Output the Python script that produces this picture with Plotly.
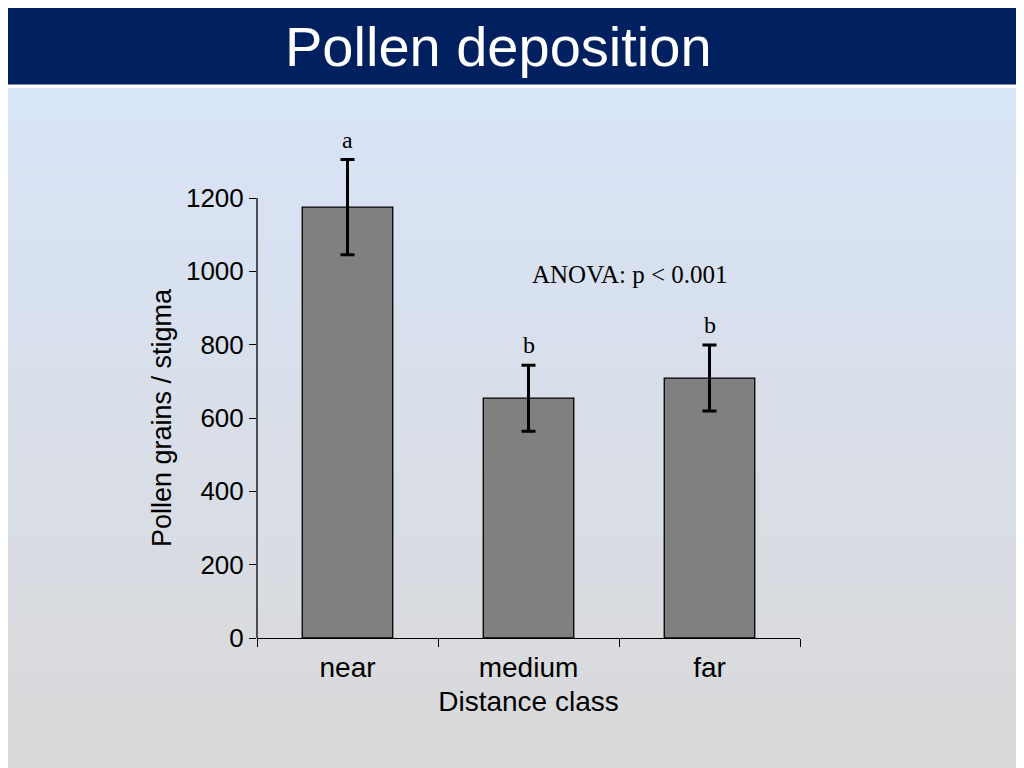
import plotly.graph_objects as go

categories = ["near", "medium", "far"]
means = [1175, 654, 709]
errors = [130, 90, 90]
letters = ["a", "b", "b"]
y_ticks = [0, 200, 400, 600, 800, 1000, 1200]

# The page has an 8px body margin; the figure is sized to fit the window.
OFF = 8
W, H = 1024 - OFF, 768 - OFF
ml, mr, mt, mb = 249, 224, 102, 130
pw, ph = W - ml - mr, H - mt - mb

def py(page_y):   # page pixel row -> paper y
    return (H - mb - (page_y - OFF)) / ph

def px(page_x):   # page pixel column -> paper x
    return ((page_x - OFF) - ml) / pw

fig = go.Figure()
fig.add_trace(go.Bar(
    x=categories, y=means, width=0.5,
    marker=dict(color="#808080", line=dict(color="black", width=1.3)),
    error_y=dict(type="data", array=errors, visible=True,
                 color="black", thickness=3, width=7),
    showlegend=False, hoverinfo="skip",
))

shapes = []
# background gradient bands
top_c = (216, 228, 248)
bot_c = (217, 217, 217)
n = 80
ya0, yb0 = 88, 768
for i in range(n):
    t = i / (n - 1)
    c = tuple(round(top_c[k] + (bot_c[k] - top_c[k]) * t) for k in range(3))
    a = ya0 + (yb0 - ya0) * i / n
    b = ya0 + (yb0 - ya0) * (i + 1) / n + 0.8
    shapes.append(dict(type="rect", xref="paper", yref="paper", layer="below",
                       x0=px(0) - 0.1, x1=px(1024) + 0.1, y0=py(b), y1=py(a),
                       line=dict(width=0), fillcolor="rgb(%d,%d,%d)" % c))
# white separator and navy title bar
shapes.append(dict(type="rect", xref="paper", yref="paper", layer="below",
                   x0=px(0) - 0.1, x1=px(1024) + 0.1, y0=py(88), y1=py(84),
                   line=dict(width=0), fillcolor="white"))
shapes.append(dict(type="rect", xref="paper", yref="paper", layer="below",
                   x0=px(0) - 0.1, x1=px(1024) + 0.1, y0=py(84.5), y1=py(-20),
                   line=dict(width=0), fillcolor="#002060"))
# y-axis line from 0 to 1200 only
shapes.append(dict(type="line", xref="paper", yref="y",
                   x0=0, x1=0, y0=0, y1=max(y_ticks),
                   line=dict(color="black", width=1.3)))

annotations = []
for c, m, e, l in zip(categories, means, errors, letters):
    annotations.append(dict(x=c, y=m + e, xref="x", yref="y", text=l,
                            showarrow=False, xanchor="center", yanchor="bottom", yshift=5,
                            font=dict(family="Liberation Serif", size=24, color="black")))
annotations.append(dict(x=px(630), y=py(274), xref="paper", yref="paper",
                        text="ANOVA: p < 0.001", showarrow=False,
                        xanchor="center", yanchor="middle",
                        font=dict(family="Liberation Serif", size=25, color="black")))
annotations.append(dict(x=px(498), y=py(47), xref="paper", yref="paper",
                        text="Pollen deposition", showarrow=False,
                        xanchor="center", yanchor="middle",
                        font=dict(family="Liberation Sans", size=56, color="white")))
# y-axis title, centred on the drawn axis (0..1200)
annotations.append(dict(x=px(162), y=(y_ticks[0] + y_ticks[-1]) / 2, xref="paper", yref="y",
                        text="Pollen grains / stigma", showarrow=False, textangle=-90,
                        xanchor="center", yanchor="middle",
                        font=dict(family="Liberation Sans", size=27, color="black")))

fig.update_layout(
    width=W, height=H,
    margin=dict(l=ml, r=mr, t=mt, b=mb),
    paper_bgcolor="#d9d9d9", plot_bgcolor="rgba(0,0,0,0)",
    shapes=shapes, annotations=annotations,
    font=dict(family="Liberation Sans", color="black"),
    xaxis=dict(type="category", tickson="boundaries", ticks="outside", ticklen=8,
               tickcolor="black", tickwidth=1.3, showline=True, linecolor="black",
               linewidth=1.3, showgrid=False, tickfont=dict(size=28),
               ticklabelstandoff=4,
               title=dict(text="Distance class", font=dict(size=28), standoff=9),
               range=[-0.5, 2.5]),
    yaxis=dict(range=[0, 1440], tickvals=y_ticks, ticks="outside", ticklen=7,
               tickcolor="black", tickwidth=1.3, showline=False, showgrid=False,
               zeroline=False, tickfont=dict(size=26)),
)

fig.write_html("out.html")
